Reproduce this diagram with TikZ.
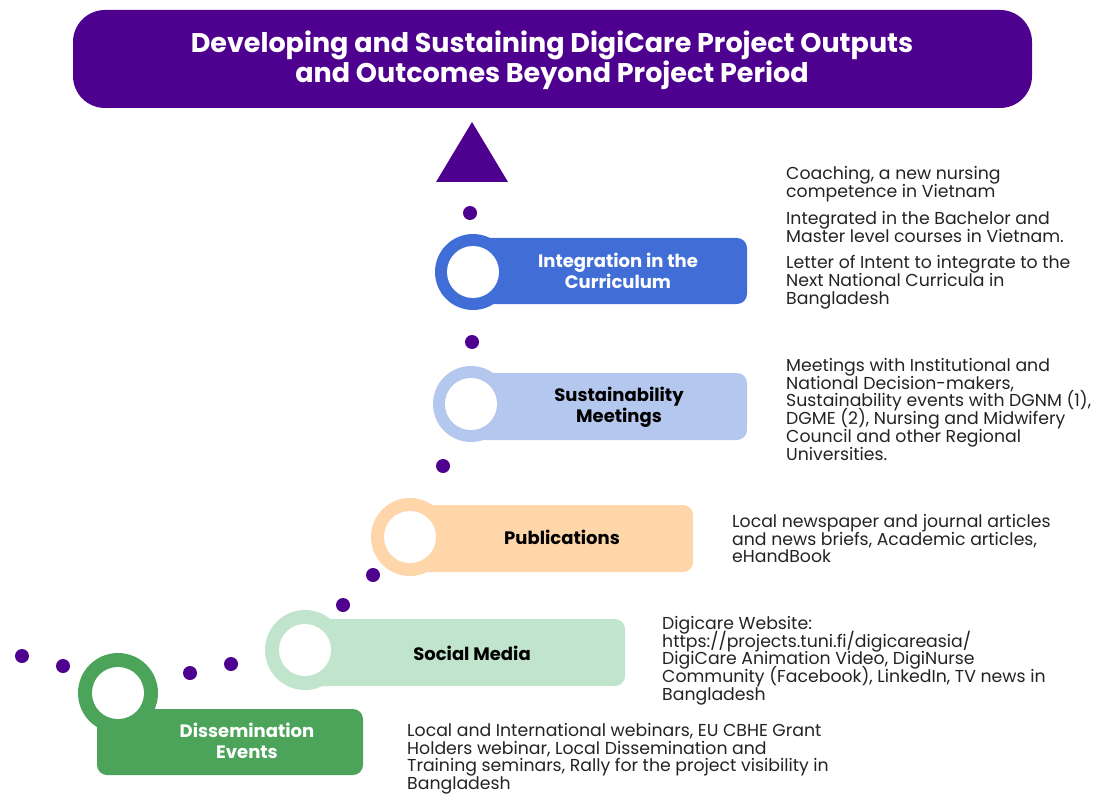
\documentclass[tikz,border=0pt]{standalone}
\usepackage{fontspec}
\setmainfont{Poppins}
\usetikzlibrary{positioning}

\definecolor{dcpurple}{RGB}{78,0,142}
\definecolor{dcblue}{RGB}{64,110,214}
\definecolor{dclightblue}{RGB}{180,199,238}
\definecolor{dcpeach}{RGB}{255,213,170}
\definecolor{dcmint}{RGB}{192,228,204}
\definecolor{dcgreen}{RGB}{76,163,90}
\definecolor{dctext}{RGB}{35,35,35}

\newcommand\notefont{\fontsize{17.3}{17.8}\selectfont\lineskiplimit=-20pt\relax}

\tikzset{
  bar/.style={rounded corners=10pt},
  label/.style={font=\bfseries\fontsize{18}{21}\selectfont, align=center},
  notes/.style={anchor=north west, inner sep=0pt, align=left, text=dctext,
    font=\notefont},
}

\begin{document}
\begin{tikzpicture}[x=1pt, y=-1pt]
    \useasboundingbox (0,0) rectangle (1107,794);

    % heading
    \fill[dcpurple, rounded corners=32pt] (73,10) rectangle (1032,108);
    \node[white, font=\bfseries\fontsize{27}{28}\selectfont, align=center] (head) at (552,60)
      {Developing and Sustaining DigiCare Project Outputs\\and Outcomes Beyond Project Period};
    \fill[dcpurple] (472,122) -- (508,182) -- (436,182) -- cycle;

    % dotted trail
    \foreach \x/\y in {470/213, 472/342, 443/466, 373/575, 343/605, 231/664, 190/673, 63/666, 22/656}
      \fill[dcpurple] (\x,\y) circle (7);

    % Integration in the Curriculum
    \fill[dcblue, bar] (470,238) rectangle (747,304);
    \fill[dcblue] (473,272) circle (38);
    \fill[white] (473,272) circle (26);
    \node[label, white] (curr) at (618,271) {Integration in the\\Curriculum};

    % Sustainability Meetings
    \fill[dclightblue, bar] (470,373) rectangle (747,440);
    \fill[dclightblue] (471,404) circle (38);
    \fill[white] (471,404) circle (26);
    \node[label, black] (meet) at (619,407) {Sustainability\\Meetings};

    % Publications
    \fill[dcpeach, bar] (410,505) rectangle (693,572);
    \fill[dcpeach] (410,537) circle (39);
    \fill[white] (410,537) circle (26);
    \node[label, black] (publ) at (562,537) {Publications};

    % Social Media
    \fill[dcmint, bar] (305,619) rectangle (625,686);
    \fill[dcmint] (305,650) circle (40);
    \fill[white] (305,650) circle (26);
    \node[label, black] (social) at (472,653) {Social Media};

    % Dissemination Events
    \fill[dcgreen, bar] (97,709) rectangle (363,775);
    \fill[dcgreen] (118,693) circle (40);
    \fill[white] (118,693) circle (26);
    \node[label, white] (dissem) at (247,741) {Dissemination\\Events};

    % outputs of each step
    \node[notes] (currA) at (786,166) {Coaching, a new nursing\\competence in Vietnam};
    \node[notes] (currB) at (786,211) {Integrated in the Bachelor and\\Master level courses in Vietnam.};
    \node[notes] (currC) at (786,255) {Letter of Intent to integrate to the\\Next National Curricula in\\Bangladesh};
    \node[notes] (meetA) at (786,358) {Meetings with Institutional and\\National Decision-makers,\\Sustainability events with DGNM (1),\\DGME (2), Nursing and Midwifery\\Council and other Regional\\Universities.};
    \node[notes] (publA) at (732,514) {Local newspaper and journal articles\\and news briefs, Academic articles,\\eHandBook};
    \node[notes] (socialA) at (662,616) {Digicare Website:\\https://projects.tuni.fi/digicareasia/\\DigiCare Animation Video, DigiNurse\\Community (Facebook), LinkedIn, TV news in\\Bangladesh};
    \node[notes] (dissemA) at (407,723) {Local and International webinars, EU CBHE Grant\\Holders webinar, Local Dissemination and\\Training seminars, Rally for the project visibility in\\Bangladesh};
\end{tikzpicture}
\end{document}
